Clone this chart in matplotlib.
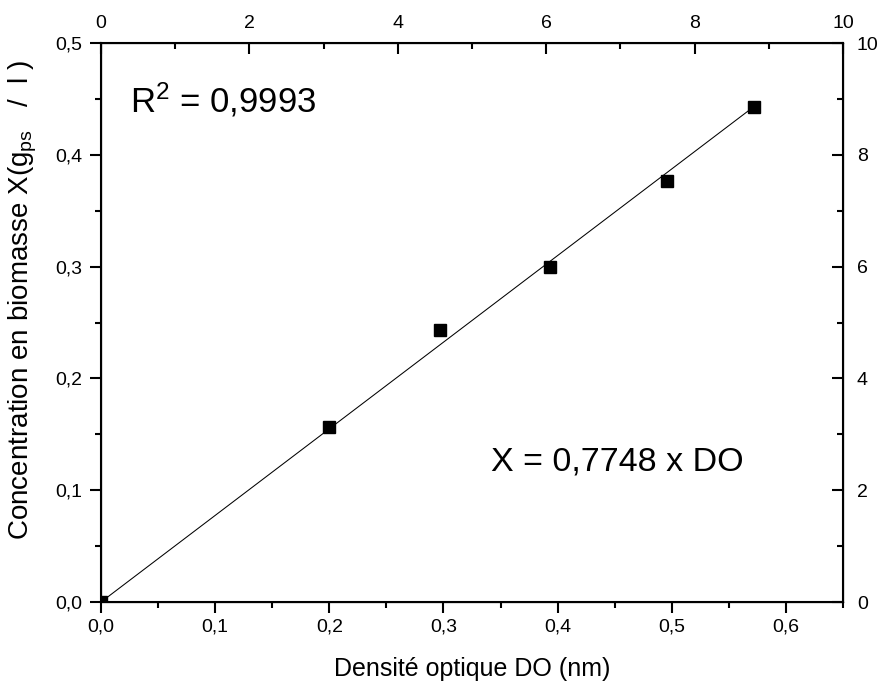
import numpy as np
import matplotlib
matplotlib.use("Agg")
import matplotlib.pyplot as plt
from matplotlib.ticker import FuncFormatter, MultipleLocator

plt.rcParams['font.family'] = ['Liberation Sans', 'DejaVu Sans']
plt.rcParams['mathtext.fontset'] = 'custom'
plt.rcParams['mathtext.rm'] = 'Liberation Sans'
plt.rcParams['mathtext.it'] = 'Liberation Sans'

# data
do_vals = [0.0, 0.200, 0.297, 0.393, 0.496, 0.572]
biomass = [0.0, 0.157, 0.243, 0.300, 0.377, 0.443]
slope = 0.7748

fig = plt.figure(figsize=(8.8, 6.86), dpi=100)
ax = fig.add_axes([0.1148, 0.1224, 0.958 - 0.1148, 0.9373 - 0.1224])

fit_x = np.array([0.0, max(do_vals)])
ax.plot(fit_x, slope * fit_x, color='black', lw=0.75, zorder=2)
ax.plot(do_vals, biomass, ls='none', marker='s', ms=8.5, color='black', zorder=3)

ax.set_xlim(0, 0.65)
ax.set_ylim(0, 0.5)
ax.xaxis.set_major_locator(MultipleLocator(0.1))
ax.xaxis.set_minor_locator(MultipleLocator(0.05))
ax.yaxis.set_major_locator(MultipleLocator(0.1))
ax.yaxis.set_minor_locator(MultipleLocator(0.05))
comma = FuncFormatter(lambda v, p: "{:.1f}".format(v).replace('.', ','))
ax.xaxis.set_major_formatter(comma)
ax.yaxis.set_major_formatter(comma)

for s in ax.spines.values():
    s.set_linewidth(1.5)
ax.tick_params(which='major', direction='out', length=8, width=1.5, labelsize=14)
ax.tick_params(axis='x', which='major', pad=4)
ax.tick_params(axis='y', which='major', pad=5.5)
ax.tick_params(which='minor', direction='out', length=4.5, width=1.5)

# top and right secondary axes (0-10)
top = ax.twiny()
top.set_xlim(0, 10)
top.xaxis.set_major_locator(MultipleLocator(2))
top.xaxis.set_minor_locator(MultipleLocator(1))
right = ax.twinx()
right.set_ylim(0, 10)
right.yaxis.set_major_locator(MultipleLocator(2))
right.yaxis.set_minor_locator(MultipleLocator(1))
for t in (top, right):
    t.tick_params(which='major', direction='in', length=8, width=1.5, labelsize=14)
    t.tick_params(which='minor', direction='in', length=4.5, width=1.5)
top.tick_params(which='major', pad=8)
right.tick_params(which='major', pad=10)

ax.set_xlabel("Densité optique DO (nm)", fontsize=18)
ax.xaxis.set_label_coords(0.5, -0.098)
ax.set_ylabel("Concentration en biomasse X(g$_{ps}$   /  l )", fontsize=20)
ax.yaxis.set_label_coords(-0.0836, 0.54)

ax.text(0.039, 0.8766, "R$^2$ = 0,9993", transform=ax.transAxes, fontsize=25,
        va='baseline')
ax.text(0.526, 0.236, "X = 0,7748 x DO", transform=ax.transAxes, fontsize=24.5,
        va='baseline')

fig.savefig("out.png", dpi=100)
